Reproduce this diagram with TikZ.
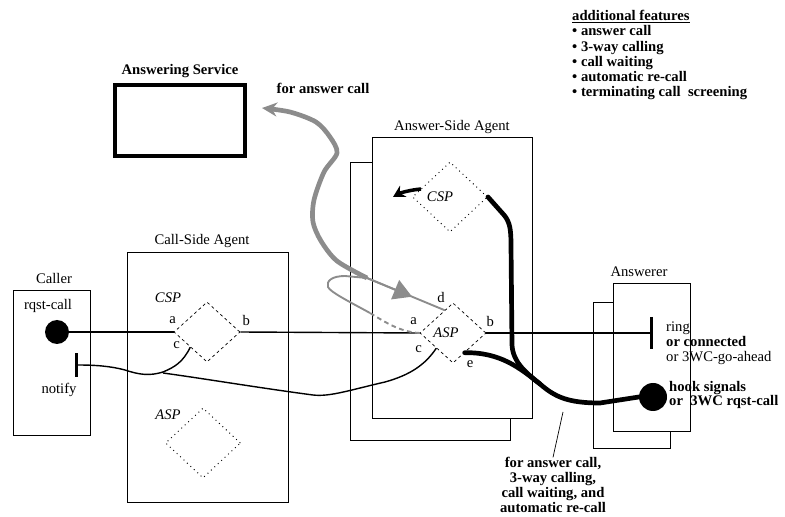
\documentclass[tikz,border=0pt]{standalone}
\usepackage{fontspec}
\setmainfont{Liberation Serif}
\usetikzlibrary{positioning, shapes.geometric, arrows.meta, calc}
\definecolor{fsInk}{HTML}{000000}
\definecolor{fsGray}{HTML}{8C8C8C}
\newcommand{\fsfont}{\fontsize{12.5pt}{13pt}\selectfont}
\tikzset{
    fsBox/.style={
        rectangle,
        draw=fsInk,
        fill=white,
        line width=0.8pt,
        inner sep=0pt
    },
    fsService/.style={rectangle, draw=fsInk, line width=3.4pt, minimum width=3.9cm, minimum height=2.13cm},
    % Service points
    fsDiamondDashed/.style={
        diamond,
        draw=fsInk,
        dash pattern=on 2.5pt off 2.5pt,
        line width=0.6pt,
        inner sep=0pt,
        minimum width=1.98cm,
        minimum height=1.8cm
    },
    fsDiamondDotted/.style={
        diamond,
        draw=fsInk,
        dash pattern=on 0.8pt off 3.2pt,
        line width=0.8pt,
        inner sep=0pt,
        minimum width=2.25cm,
        minimum height=2.1cm
    },
    fsDot/.style={circle, fill=fsInk, inner sep=0pt},
    % Texts
    fsTitle/.style={inner sep=0pt, font=\fsfont},
    fsPort/.style={inner sep=0pt, font=\fsfont},
    fsRole/.style={inner sep=0pt, font=\fsfont\itshape},
    fsNote/.style={inner sep=0pt, font=\fontsize{12.5pt}{12.6pt}\selectfont\bfseries, align=center},
    % Connectors
    fsLine/.style={draw=fsInk, line width=1.2pt},
    fsThick/.style={draw=fsInk, line width=4pt, line cap=round},
    fsGrayThick/.style={draw=fsGray, line width=4pt, -{Stealth[length=0.45cm, width=0.42cm]}},
    fsGrayThin/.style={draw=fsGray, line width=1.6pt}
}

\begin{document}
\begin{tikzpicture}[x=0.03cm, y=-0.03cm, every node/.style={font=\fsfont}]
    \useasboundingbox (0,0) rectangle (785,517);
    % boxes
    \node[fsBox, minimum width=2.31cm, minimum height=4.35cm] (caller) at (51.5,362.5) {};
    \node[fsBox, minimum width=4.83cm, minimum height=7.5cm] (callAgent) at (207.5,377) {};
    \node[fsBox, minimum width=4.8cm, minimum height=8.34cm] (ansBack) at (430,301) {};
    \node[fsBox, minimum width=4.8cm, minimum height=8.43cm] (ansFront) at (452,277.5) {};
    \node[fsBox, minimum width=2.31cm, minimum height=4.38cm] (answererBack) at (631.5,375) {};
    \node[fsBox, minimum width=2.31cm, minimum height=4.44cm] (answererFront) at (651.5,357) {};
    \node[fsService] (service) at (180,120.5) {};

    \node[fsTitle] (callerTitle) at (54,278) {Caller};
    \node[fsTitle] (callAgentTitle) at (202,241) {Call-Side Agent};
    \node[fsTitle] (ansAgentTitle) at (452,127) {Answer-Side Agent};
    \node[fsTitle] (answererTitle) at (639,272) {Answerer};
    \node[fsTitle, font=\fsfont\bfseries] (serviceTitle) at (180,71) {Answering Service};
    \node[fsTitle, font=\fsfont\bfseries] (forAnswer) at (323,88) {for answer call};

    % service points
    \node[fsDiamondDashed] (cspCall) at (207,332) {};
    \node[fsDiamondDotted] (aspCall) at (203,443) {};
    \node[fsDiamondDotted] (cspAns) at (450,197) {};
    \node[fsDiamondDashed] (aspAns) at (453,333) {};
    \node[fsRole] (cspCallTxt) at (168,298) {CSP};
    \node[fsRole] (aspCallTxt) at (168,415) {ASP};
    \node[fsRole] (cspAnsTxt) at (440,197) {CSP};
    \node[fsRole] (aspAnsTxt) at (446,333) {ASP};

    \node[fsPort] (cspA) at ($(cspCall.west)+(-1,-12)$) {a};
    \node[fsPort] (cspB) at ($(cspCall.east)+(6,-12)$) {b};
    \node[fsPort] (cspC) at ($(cspCall.west)+(3,13)$) {c};
    \node[fsPort] (aspA) at ($(aspAns.west)+(-6,-12)$) {a};
    \node[fsPort] (aspB) at ($(aspAns.east)+(4,-12)$) {b};
    \node[fsPort] (aspC) at ($(aspAns.west)+(-1,16)$) {c};
    \node[fsPort] (aspD) at (441,297) {d};
    \node[fsPort] (aspE) at (470,364) {e};

    % end points
    \node[fsDot, minimum size=0.72cm] (rqstDot) at (57,332) {};
    \node[fsTitle] (rqstTxt) at (48,306) {rqst-call};
    \node[fsTitle] (notifyTxt) at (59,390) {notify};
    \coordinate (notifyPt) at (75,365);
    \coordinate (ringPt) at (653,333);
    \node[fsDot, minimum size=0.84cm] (hookDot) at (653,397) {};
    \node[fsTitle, anchor=west, align=left] (ringTxt) at (666,343)
        {ring\\\textbf{or connected}\\or 3WC-go-ahead};
    \node[fsTitle, anchor=west, align=left, font=\fontsize{12.5pt}{11pt}\selectfont\bfseries] (hookTxt) at (669,395)
        {hook signals\\or\ \ 3WC rqst-call};

    \coordinate (dPt) at ($(aspAns.west)!0.75!(aspAns.north)$);
    \coordinate (ePt) at ($(aspAns.south)!0.35!(aspAns.east)$);

    % call path
    \draw[fsLine] (rqstDot) -- (cspCall.west);
    \draw[fsLine] (cspCall.east) -- (aspAns.west);
    \draw[fsLine, -{Bar[width=0.96cm, line width=2.4pt]}] (aspAns.east) -- (ringPt);
    \draw[fsLine, -{Bar[width=0.72cm, line width=2.4pt]}] (cspCall.south west)
        .. controls (183,362) and (175,367) .. (163,372)
        .. controls (150,376) and (140,375) .. (125,370)
        .. controls (110,366) and (95,365) .. (notifyPt);
    \coordinate (notifyJoin) at (163,373);
    \draw[fsLine] (aspAns.south west)
        .. controls (425,365) and (410,375) .. (385,382)
        .. controls (350,390) and (330,397) .. (313,395)
        .. controls (260,388) and (200,378) .. (notifyJoin);

    % feature connections
    \draw[fsThick] (cspAns.east) -- (504,215)
        .. controls (510,222) and (511,230) .. (511,245)
        -- (512,345)
        .. controls (513,362) and (525,372) .. (540,384)
        .. controls (555,397) and (568,403) .. (600,403)
        -- (hookDot.west);
    \draw[fsThick] (ePt) .. controls (500,352) and (520,368) .. (540,384);
    \draw[fsInk, line width=3pt, -{Stealth[length=0.35cm, width=0.38cm]}]
        ($(cspAns.west)+(9,-8)$) .. controls (410,190) and (400,193) .. (393,197);

    % answer call route
    \coordinate (svcJoin) at (367,278);
    \coordinate (svcTip) at (262,108);
    \draw[fsGrayThick] plot[smooth] coordinates {(367,278) (337,261) (321,241) (313,222) (314,200) (324,172) (337,153) (330,137) (316,122) (290,112) (svcTip)};
    \draw[fsGrayThin, dash pattern=on 4pt off 3pt] (aspAns.west) .. controls (400,332) and (385,322) .. (370,313);
    \draw[fsGrayThin] (370,313) .. controls (350,302) and (330,292) .. (328,287)
        .. controls (326,281) and (332,276) .. (345,276) -- (svcJoin) -- (dPt);
    \draw[fsGrayThin, -{Triangle[length=0.55cm, width=0.62cm]}] (svcJoin) -- ($(svcJoin)!0.58!(dPt)$);

    % notes
    \node[fsNote] (note) at (553,485)
        {for answer call,\\3-way calling,\\call waiting, and\\automatic re-call};
    \coordinate (noteTip) at (563,412);
    \draw[fsInk, line width=0.6pt] (noteTip) -- (note.north);
    \node[fsTitle, anchor=north west, align=left, font=\fsfont\bfseries] (features) at (572,10)
        {\underline{additional features}\\
         \textbullet\ answer call\\
         \textbullet\ 3-way calling\\
         \textbullet\ call waiting\\
         \textbullet\ automatic re-call\\
         \textbullet\ terminating call\ \ screening};
\end{tikzpicture}
\end{document}
